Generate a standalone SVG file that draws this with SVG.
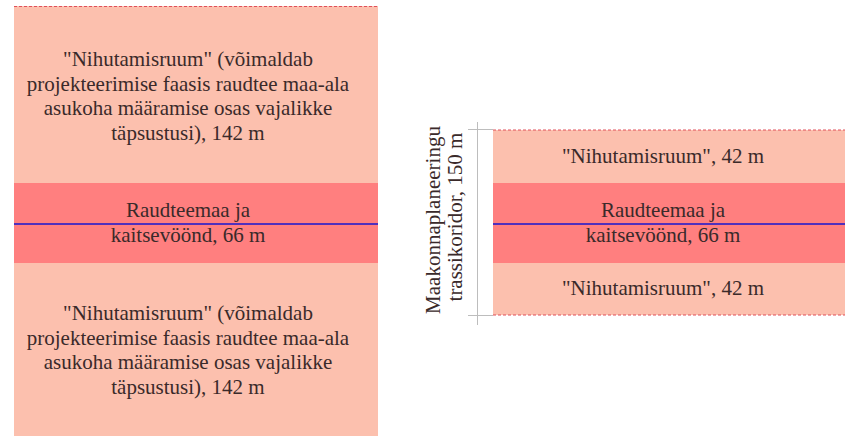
<svg xmlns="http://www.w3.org/2000/svg" width="845" height="436" viewBox="0 0 845 436">
  <style>
    .light { fill: #FCC0AE; }
    .dark { fill: #FF7F7F; }
    .t { font-family: "Liberation Serif", "DejaVu Serif", serif; font-size: 21px; fill: #3a2a2a; text-anchor: middle; }
    .dash { stroke: #E0505A; stroke-width: 1; stroke-dasharray: 3 2; fill: none; }
    .axis { stroke: #1616D0; stroke-width: 1.5; fill: none; }
    .dim { stroke: #BDBDBD; stroke-width: 1; fill: none; }
  </style>
  <rect width="845" height="436" fill="#FFFFFF"/>

  <!-- Left cross-section -->
  <g id="left-top-band">
    <rect class="light" x="14" y="6" width="364" height="177"/>
    <text class="t" x="188" y="66">"Nihutamisruum" (võimaldab</text>
    <text class="t" x="188" y="90.5">projekteerimise faasis raudtee maa-ala</text>
    <text class="t" x="188" y="115">asukoha määramise osas vajalikke</text>
    <text class="t" x="188" y="139.5">täpsustusi), 142 m</text>
  </g>
  <g id="left-middle-band">
    <rect class="dark" x="14" y="183" width="364" height="80"/>
    <text class="t" x="188" y="217">Raudteemaa ja</text>
    <text class="t" x="188" y="241.5">kaitsevöönd, 66 m</text>
  </g>
  <g id="left-bottom-band">
    <rect class="light" x="14" y="263" width="364" height="173"/>
    <text class="t" x="188" y="320">"Nihutamisruum" (võimaldab</text>
    <text class="t" x="188" y="344.5">projekteerimise faasis raudtee maa-ala</text>
    <text class="t" x="188" y="369">asukoha määramise osas vajalikke</text>
    <text class="t" x="188" y="393.5">täpsustusi), 142 m</text>
  </g>

  <!-- Right cross-section -->
  <g id="right-top-band">
    <rect class="light" x="493" y="130" width="352" height="53"/>
    <text class="t" x="663" y="163">"Nihutamisruum", 42 m</text>
  </g>
  <g id="right-middle-band">
    <rect class="dark" x="493" y="183" width="352" height="80"/>
    <text class="t" x="663" y="217">Raudteemaa ja</text>
    <text class="t" x="663" y="241.5">kaitsevöönd, 66 m</text>
  </g>
  <g id="right-bottom-band">
    <rect class="light" x="493" y="263" width="352" height="52"/>
    <text class="t" x="663" y="295">"Nihutamisruum", 42 m</text>
  </g>

  <g id="corridor-dimension">
    <line class="dim" x1="477.5" y1="122" x2="477.5" y2="325"/>
    <line class="dim" x1="468" y1="129.5" x2="493" y2="129.5"/>
    <line class="dim" x1="468" y1="315.5" x2="493" y2="315.5"/>
    <text class="t" transform="translate(440,220) rotate(-90)" x="0" y="0">Maakonnaplaneeringu</text>
    <text class="t" transform="translate(461.5,217) rotate(-90)" x="0" y="0">trassikoridor, 150 m</text>
  </g>

  <g id="connectors">
    <line class="dash" x1="14" y1="6.5" x2="378" y2="6.5"/>
    <line class="axis" x1="14" y1="224" x2="378" y2="224"/>
    <line class="dash" x1="493" y1="130" x2="845" y2="130"/>
    <line class="dash" x1="493" y1="315" x2="845" y2="315"/>
    <line class="axis" x1="493" y1="224" x2="845" y2="224"/>
  </g>
</svg>
